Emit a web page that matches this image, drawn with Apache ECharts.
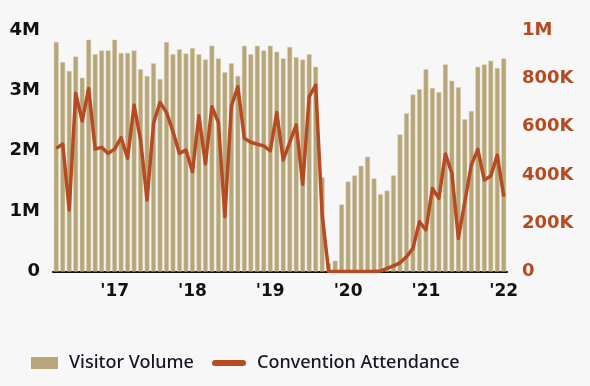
<!DOCTYPE html>
<html>
<head>
<meta charset="utf-8">
<script src="https://cdn.jsdelivr.net/npm/echarts@6/dist/echarts.min.js"></script>
<style>
html,body{margin:0;padding:0;background:#f7f7f7;}
#chart{width:590px;height:386px;}
</style>
</head>
<body>
<div id="chart"></div>
<script>
const months = [
 '2016-04','2016-05','2016-06','2016-07','2016-08','2016-09','2016-10','2016-11','2016-12',
 '2017-01','2017-02','2017-03','2017-04','2017-05','2017-06','2017-07','2017-08','2017-09','2017-10','2017-11','2017-12',
 '2018-01','2018-02','2018-03','2018-04','2018-05','2018-06','2018-07','2018-08','2018-09','2018-10','2018-11','2018-12',
 '2019-01','2019-02','2019-03','2019-04','2019-05','2019-06','2019-07','2019-08','2019-09','2019-10','2019-11','2019-12',
 '2020-01','2020-02','2020-03','2020-04','2020-05','2020-06','2020-07','2020-08','2020-09','2020-10','2020-11','2020-12',
 '2021-01','2021-02','2021-03','2021-04','2021-05','2021-06','2021-07','2021-08','2021-09','2021-10','2021-11','2021-12',
 '2022-01'
];
// Visitor volume (people)
const visitorVolume = [
 3800000,3470000,3320000,3560000,3210000,3840000,3600000,3660000,3660000,
 3840000,3620000,3620000,3660000,3350000,3240000,3450000,3190000,3800000,3600000,3680000,3610000,
 3700000,3600000,3510000,3740000,3530000,3300000,3450000,3240000,3740000,3600000,3740000,3660000,
 3740000,3640000,3530000,3720000,3550000,3510000,3600000,3390000,1560000,140000,180000,1110000,
 1490000,1590000,1750000,1900000,1540000,1280000,1340000,1590000,2270000,2620000,2930000,3020000,
 3350000,3040000,2970000,3430000,3160000,3050000,2520000,2660000,3390000,3430000,3490000,3370000,
 3530000
];
// Convention attendance (people)
const conventionAttendance = [
 510000,528000,255000,738000,623000,758000,507000,514000,489000,
 507000,554000,469000,689000,545000,296000,614000,700000,659000,579000,489000,503000,
 413000,645000,445000,682000,618000,227000,685000,765000,552000,535000,527000,520000,
 499000,658000,462000,535000,607000,361000,724000,772000,235000,0,0,0,
 0,0,0,0,0,2000,13000,23000,36000,61000,96000,206000,
 172000,344000,303000,487000,407000,137000,289000,441000,506000,379000,395000,482000,
 310000
];
const leftTicks = {0:'0',1000000:'1M',2000000:'2M',3000000:'3M',4000000:'4M'};
const rightTicks = {0:'0',200000:'200K',400000:'400K',600000:'600K',800000:'800K',1000000:'1M'};

const chart = echarts.init(document.getElementById('chart'), null, {renderer:'canvas'});
const axisFont = 'DejaVu Sans';
const legendText = {fontFamily:'Noto Sans',fontSize:18,fontWeight:500,color:'#161625',padding:[0,0,0,6]};
chart.setOption({
  backgroundColor:'#f7f7f7',
  animation:false,
  grid:{left:53,right:83,top:30,bottom:114.5,containLabel:false},
  legend:[
    {data:['Visitor Volume'],left:26,top:349,icon:'rect',itemWidth:27,itemHeight:12,
     itemStyle:{color:'#b6a679',borderWidth:0},
     textStyle:legendText},
    {data:['Convention Attendance'],left:207,top:349,
     icon:'path://M3,0 H31 A3,3 0 0 1 31,6 H3 A3,3 0 0 1 3,0 Z',itemWidth:34,itemHeight:6,
     itemStyle:{color:'#b84a22',borderWidth:0},
     textStyle:legendText}
  ],
  xAxis:{
    type:'category',data:months,boundaryGap:true,
    axisLine:{show:true,lineStyle:{color:'#111',width:2}},
    axisTick:{show:false},
    axisLabel:{
      interval:function(i,v){return v.slice(5)==='01';},
      formatter:function(v){return "'"+v.slice(2,4);},
      fontFamily:axisFont,fontWeight:'bold',fontSize:17,color:'#111',margin:12
    },
    splitLine:{show:false}
  },
  yAxis:[
    {type:'value',min:0,max:4000000,interval:1000000,position:'left',
     axisLine:{show:false},axisTick:{show:false},splitLine:{show:false},
     axisLabel:{formatter:function(v){return leftTicks[v];},fontFamily:axisFont,fontWeight:'bold',fontSize:18,color:'#111',margin:13}},
    {type:'value',min:0,max:1000000,interval:200000,position:'right',
     axisLine:{show:false},axisTick:{show:false},splitLine:{show:false},
     axisLabel:{formatter:function(v){return rightTicks[v];},fontFamily:axisFont,fontWeight:'bold',fontSize:18,color:'#b84a22',margin:15}}
  ],
  series:[
    {name:'Visitor Volume',type:'bar',yAxisIndex:0,data:visitorVolume,barCategoryGap:'25%',
     itemStyle:{color:'#b6a679',borderColor:'#d8cdb0',borderWidth:0.5}},
    {name:'Convention Attendance',type:'line',yAxisIndex:1,data:conventionAttendance,
     showSymbol:false,symbol:'none',
     lineStyle:{color:'#b84a22',width:3.5,join:'round'},itemStyle:{color:'#b84a22'}}
  ]
});
</script>
</body>
</html>
